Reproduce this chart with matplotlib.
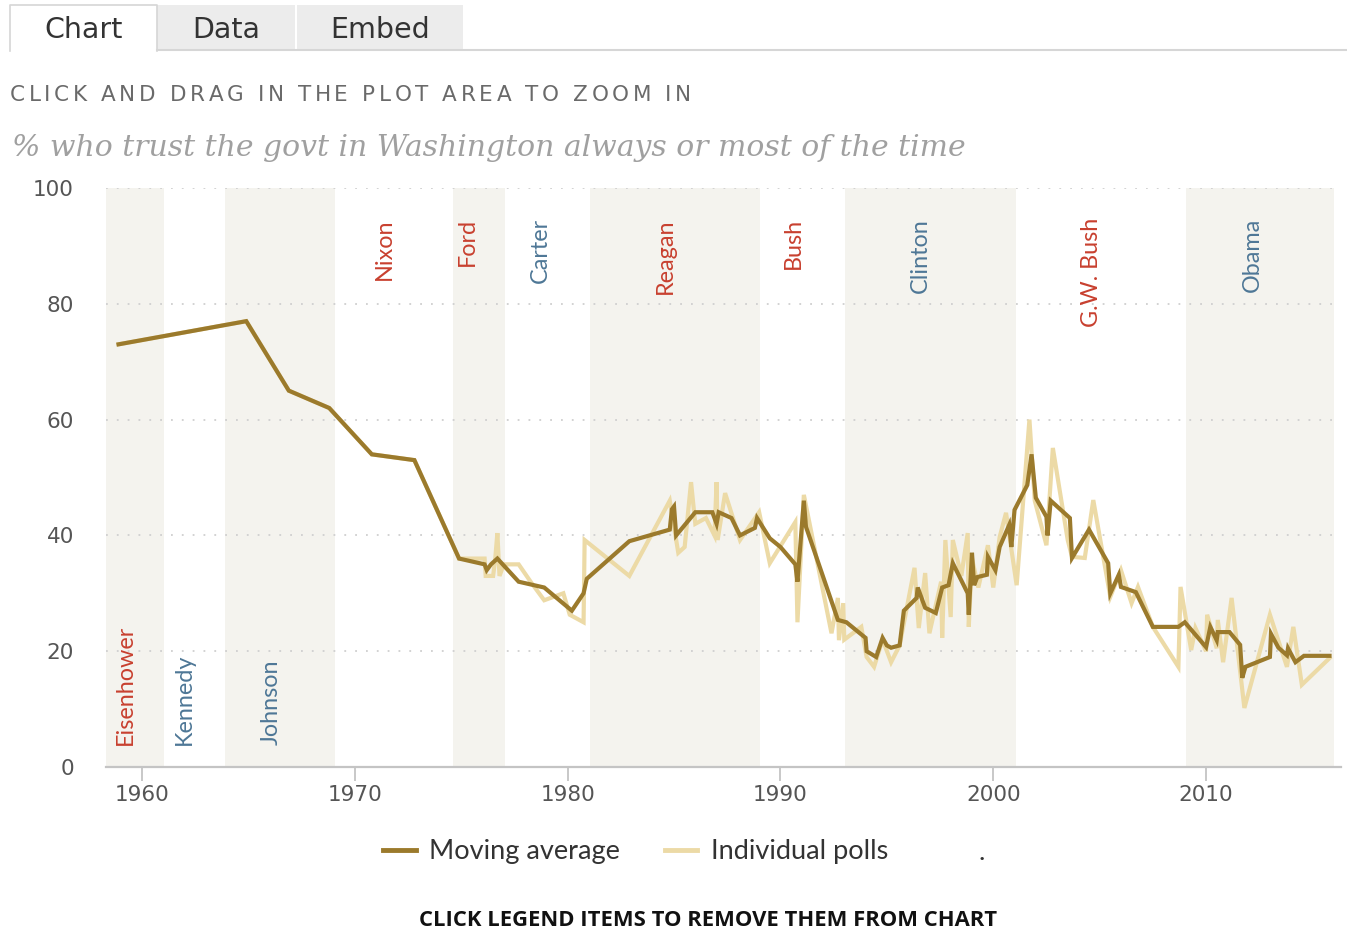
import matplotlib
matplotlib.use("Agg")
import matplotlib.pyplot as plt
from matplotlib.patches import Rectangle
from matplotlib.lines import Line2D

W, H = 1347, 934

# ---------------- data ----------------
ma_years = [1958.9, 1964.9, 1966.9, 1968.8, 1970.8, 1972.8, 1974.9, 1976.1, 1976.2, 1976.4,
            1976.7, 1977.7, 1978.9, 1980.2, 1980.75, 1980.9, 1982.9, 1984.8, 1984.9, 1985.0,
            1985.1, 1986.0, 1986.8, 1987.0, 1987.1, 1987.7, 1988.1, 1988.8, 1988.9, 1989.5,
            1990.0, 1990.7, 1990.8, 1991.1, 1991.2, 1992.7, 1993.1, 1994.0, 1994.05, 1994.5,
            1994.8, 1995.0, 1995.2, 1995.6, 1995.8, 1996.4, 1996.45, 1996.8, 1997.3, 1997.6,
            1997.9, 1998.1, 1998.8, 1998.85, 1999.0, 1999.1, 1999.25, 1999.7, 1999.75, 2000.1,
            2000.3, 2000.75, 2000.85, 2001.0, 2001.6, 2001.8, 2002.0, 2002.5, 2002.55, 2002.7,
            2003.6, 2003.7, 2004.5, 2005.4, 2005.5, 2005.9, 2006.0, 2006.7, 2007.5, 2008.7,
            2009.0, 2010.0, 2010.2, 2010.5, 2010.55, 2011.1, 2011.6, 2011.7, 2011.85, 2013.0,
            2013.05, 2013.4, 2013.8, 2013.85, 2014.2, 2014.6, 2015.8]
ma_values = [73, 77, 65, 62, 54, 53, 36, 35, 34, 35,
             36, 32, 31, 27, 30, 32.5, 39, 41, 44.5, 45,
             40, 44, 44, 42, 44, 43, 40, 41.3, 43, 39.5,
             38, 35, 32, 46, 41.5, 25.4, 25, 22.3, 20, 19,
             22.3, 21, 20.6, 21, 27, 29.2, 31, 27.5, 26.6, 31,
             31.4, 35.2, 30, 26.3, 37, 31.4, 32.8, 33.2, 36.3, 34,
             38, 41.8, 38, 44.4, 48.7, 54, 46.5, 43.2, 40, 46,
             43, 36.1, 41, 35.2, 30, 33.2, 31.1, 30.2, 24.2, 24.2,
             25, 20.7, 24.2, 21.9, 23.3, 23.3, 21.1, 15.4, 17.3, 19,
             23, 20.6, 19.3, 20.5, 18.1, 19.2, 19.2]

poll_years = [1958.9, 1964.9, 1966.9, 1968.8, 1970.8, 1972.8, 1974.9, 1976.1, 1976.15, 1976.5,
              1976.6, 1976.7, 1976.8, 1977.0, 1977.7, 1978.3, 1978.9, 1979.8, 1980.1, 1980.75,
              1980.8, 1982.9, 1984.8, 1985.2, 1985.5, 1985.8, 1986.0, 1986.5, 1986.9, 1987.0,
              1987.05, 1987.4, 1988.1, 1989.0, 1989.5, 1990.7, 1990.8, 1991.1, 1992.4, 1992.7,
              1992.75, 1992.95, 1993.0, 1993.8, 1994.05, 1994.4, 1994.8, 1995.2, 1995.6, 1996.3,
              1996.5, 1996.8, 1997.0, 1997.55, 1997.6, 1997.75, 1998.0, 1998.1, 1998.5, 1998.8,
              1998.85, 1999.0, 1999.3, 1999.75, 2000.0, 2000.3, 2000.6, 2001.1, 2001.7, 2001.95,
              2002.5, 2002.8, 2003.5, 2003.7, 2004.3, 2004.7, 2005.5, 2006.0, 2006.5, 2006.8,
              2007.5, 2008.7, 2008.8, 2009.3, 2009.5, 2010.0, 2010.05, 2010.5, 2010.55, 2010.8,
              2011.2, 2011.8, 2013.0, 2013.8, 2014.1, 2014.5, 2015.8]
poll_values = [73, 77, 65, 62, 54, 53, 36, 36, 33, 33,
               36, 40.4, 33, 35, 35, 31.8, 28.8, 30, 26.3, 25,
               39.2, 33, 46, 37, 38, 49.2, 42, 43, 40, 49.2,
               39.2, 47.3, 39.2, 44, 35.2, 42.3, 25, 47, 23.1, 29.2,
               21.9, 28.3, 22, 24.2, 19, 17.3, 22, 18.1, 21, 34.4,
               24, 33.5, 23.1, 32, 22.3, 39.2, 25.9, 39.2, 33, 40.4,
               24.2, 36, 31, 38.3, 31, 39.7, 43.9, 31.4, 60, 46,
               38.3, 55.1, 39.2, 36.3, 36.1, 46.1, 29.4, 34, 28.3, 31.1,
               24.2, 17.3, 31.1, 20.2, 24, 20, 26.3, 20.5, 25.4, 18.1,
               29.2, 10.2, 26.3, 17.3, 24.2, 14.2, 18.8]

presidents = ["Eisenhower", "Kennedy", "Johnson", "Nixon", "Ford", "Carter",
              "Reagan", "Bush", "Clinton", "G.W. Bush", "Obama"]
party = ["R", "D", "D", "R", "R", "D", "R", "R", "D", "R", "D"]
term_start = [1958.31, 1961.05, 1963.9, 1969.05, 1974.6, 1977.05, 1981.05, 1989.05, 1993.05, 2001.05, 2009.05]
term_end = [1961.05, 1963.9, 1969.05, 1974.6, 1977.05, 1981.05, 1989.05, 1993.05, 2001.05, 2009.05, 2016.0]
label_x = [1959.2, 1962.0, 1966.06, 1971.37, 1975.3, 1978.7, 1984.6, 1990.6, 1996.56, 2004.6, 2012.16]
label_top = [False, False, False, True, True, True, True, True, True, True, True]

y_ticks = [0, 20, 40, 60, 80, 100]
x_ticks = [1960, 1970, 1980, 1990, 2000, 2010]

# ---------------- style ----------------
MA_COLOR = "#9b7a2c"
POLL_COLOR = "#ecdaa6"
SHADE = "#f4f3ee"
RED = "#c8402f"
BLUE = "#4e7796"
TICK_GRAY = "#555555"


def fx(px):
    return px / W


def fy(py):
    return 1 - py / H


fig = plt.figure(figsize=(W / 100, H / 100), dpi=100)
fig.patch.set_facecolor("white")

# ---------------- tabs ----------------
fig.add_artist(Rectangle((fx(157), fy(50)), fx(295) - fx(157), fy(5) - fy(50),
                         transform=fig.transFigure, facecolor="#ececec", edgecolor="none"))
fig.add_artist(Rectangle((fx(297), fy(50)), fx(463) - fx(297), fy(5) - fy(50),
                         transform=fig.transFigure, facecolor="#ececec", edgecolor="none"))
fig.add_artist(Line2D([fx(157), fx(1347)], [fy(50), fy(50)], transform=fig.transFigure,
                      color="#d6d6d6", lw=1.5))
fig.add_artist(Line2D([fx(10), fx(10), fx(157), fx(157)], [fy(51), fy(5), fy(5), fy(51)],
                      transform=fig.transFigure, color="#d6d6d6", lw=1.2))
for label, cx in [("Chart", 84), ("Data", 226), ("Embed", 380)]:
    fig.text(fx(cx), fy(30), label, ha="center", va="center", fontsize=20.5,
             family="DejaVu Sans", color="#333333")

# letter-spaced instruction
renderer = fig.canvas.get_renderer()
instr = "CLICK AND DRAG IN THE PLOT AREA TO ZOOM IN"
xpos = 10
for ch in instr:
    if ch == " ":
        xpos += 10.5
        continue
    t = fig.text(fx(xpos), fy(95), ch, ha="left", va="center", fontsize=15.5,
                 family="DejaVu Sans", color="#6a6a6a")
    bb = t.get_window_extent(renderer=renderer)
    xpos += bb.width + 3.6

fig.text(fx(12), fy(148), "% who trust the govt in Washington always or most of the time",
         ha="left", va="center", fontsize=21.5, family="DejaVu Serif", style="italic",
         color="#a0a0a0")

# ---------------- axes ----------------
ax = fig.add_axes([fx(106), fy(767), fx(1341) - fx(106), fy(188) - fy(767)])
ax.set_xlim(1958.31, 2016.34)
ax.set_ylim(0, 100)

for s, e, i in zip(term_start, term_end, range(len(term_start))):
    if i % 2 == 0:
        ax.axvspan(s, e, color=SHADE, lw=0, zorder=0)

for yv in y_ticks[1:]:
    ax.axhline(yv, color="#cfcfcf", lw=1.3, ls=(0, (1, 5)), zorder=1)

ax.plot(poll_years, poll_values, color=POLL_COLOR, lw=3, zorder=2, solid_joinstyle="miter",
        label="Individual polls")
ax.plot(ma_years, ma_values, color=MA_COLOR, lw=3, zorder=3, solid_joinstyle="miter",
        label="Moving average")

for name, p, lx, top in zip(presidents, party, label_x, label_top):
    c = RED if p == "R" else BLUE
    if top:
        ax.text(lx, 94.8, name, rotation=90, ha="center", va="top", fontsize=16.8,
                family="Lato", color=c, zorder=4)
    else:
        ax.text(lx, 3.8, name, rotation=90, ha="center", va="bottom", fontsize=16.8,
                family="Lato", color=c, zorder=4)

for sp in ["top", "right", "left"]:
    ax.spines[sp].set_visible(False)
ax.spines["bottom"].set_color("#c4c4c4")
ax.spines["bottom"].set_linewidth(1.6)

ax.set_yticks(y_ticks)
ax.set_yticklabels([str(v) for v in y_ticks])
ax.set_xticks(x_ticks)
ax.set_xticklabels([str(v) for v in x_ticks])
ax.tick_params(axis="y", length=0, pad=23, labelsize=15.5, labelcolor=TICK_GRAY)
ax.tick_params(axis="x", length=10, width=1.3, color="#c4c4c4", pad=3,
               labelsize=15.5, labelcolor=TICK_GRAY)
for lab in ax.get_xticklabels() + ax.get_yticklabels():
    lab.set_family("DejaVu Sans")

# ---------------- legend ----------------
h_ma = Line2D([], [], color=MA_COLOR, lw=3.5)
h_poll = Line2D([], [], color=POLL_COLOR, lw=3.5)
h_dot = Line2D([], [], color="none", lw=0)
leg = fig.legend([h_ma, h_poll, h_dot], ["Moving average", "Individual polls", "."],
                 loc="center left", bbox_to_anchor=(fx(383), fy(852)), ncol=3,
                 frameon=False, borderpad=0, borderaxespad=0, handlelength=1.2,
                 handletextpad=0.5, columnspacing=1.65,
                 prop={"family": "Lato", "size": 19.5})
for t in leg.get_texts():
    t.set_color("#333333")

fig.text(fx(708), fy(920), "CLICK LEGEND ITEMS TO REMOVE THEM FROM CHART", ha="center",
         va="center", fontsize=15.8, family="Open Sans", weight="bold", color="#111111")

fig.savefig("out.png", dpi=100, facecolor="white")
